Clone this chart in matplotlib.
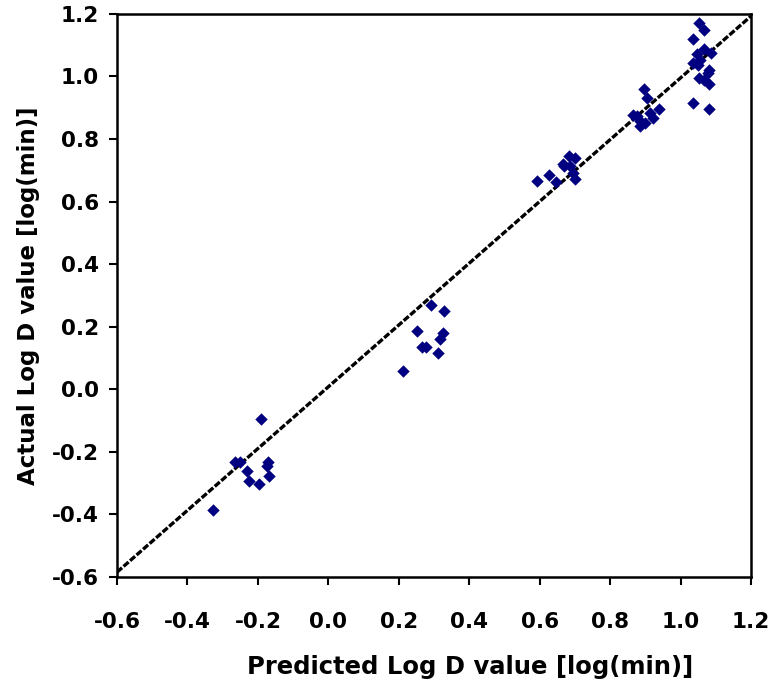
import matplotlib
matplotlib.use('Agg')
import matplotlib.pyplot as plt
import numpy as np

plt.rcParams['font.family'] = ['DejaVu Sans']

# predicted vs actual log D values
predicted = [
    -0.19, -0.266, -0.25, -0.17, -0.174, -0.231, -0.168, -0.225, -0.196, -0.328,
    0.292, 0.327, 0.253, 0.326, 0.316, 0.266, 0.278, 0.310, 0.212,
    0.683, 0.700, 0.665, 0.686, 0.696, 0.700, 0.627, 0.592, 0.646, 0.670,
    0.897, 0.904, 0.940, 0.866, 0.876, 0.885, 0.923, 0.913, 0.885, 0.899,
    1.053, 1.067, 1.035, 1.067, 1.087, 1.046, 1.036, 1.050, 1.055, 1.081,
    1.079, 1.053, 1.067, 1.082, 1.035, 1.082,
]
actual = [
    -0.095, -0.231, -0.231, -0.231, -0.245, -0.261, -0.277, -0.293, -0.302, -0.386,
    0.270, 0.250, 0.186, 0.180, 0.160, 0.135, 0.135, 0.116, 0.058,
    0.744, 0.739, 0.719, 0.712, 0.691, 0.672, 0.685, 0.664, 0.662, 0.712,
    0.959, 0.932, 0.895, 0.877, 0.872, 0.856, 0.867, 0.883, 0.840, 0.851,
    1.170, 1.149, 1.119, 1.087, 1.076, 1.071, 1.042, 1.037, 1.053, 1.021,
    1.010, 0.996, 0.989, 0.976, 0.915, 0.895,
]

# fitted line
fit_slope = 0.987
fit_intercept = 0.008
fit_x = [-0.6, 1.2]

fig = plt.figure(figsize=(7.75, 6.87), dpi=100)
ax = fig.add_axes([0.151, 0.160, 0.818, 0.820])

xs = np.array(fit_x)
ax.plot(xs, fit_slope * xs + fit_intercept, color='black', lw=2.4,
        linestyle=(0, (2, 0.6)), zorder=2)
ax.scatter(predicted, actual, marker='D', s=40, color='#000080',
           linewidths=0, zorder=3)

ax.set_xlim(-0.6, 1.2)
ax.set_ylim(-0.6, 1.2)
ticks = np.arange(-0.6, 1.21, 0.2)
ax.set_xticks(ticks)
ax.set_yticks(ticks)
ax.set_xticklabels([f'{t:.1f}' for t in ticks], fontsize=15.5, fontweight='bold')
ax.set_yticklabels([f'{t:.1f}' for t in ticks], fontsize=15.5, fontweight='bold')
ax.tick_params(direction='out', length=6, width=1.5)
ax.tick_params(axis='x', pad=19)
ax.tick_params(axis='y', pad=7)
for sp in ax.spines.values():
    sp.set_linewidth(1.8)

ax.set_xlabel('Predicted Log D value [log(min)]', fontsize=17.5,
              fontweight='bold', va='baseline')
ax.xaxis.set_label_coords(0.557, -0.172)
ax.set_ylabel('Actual Log D value [log(min)]', fontsize=16.5,
              fontweight='bold', va='center')
ax.yaxis.set_label_coords(-0.140, 0.5)

fig.savefig('out.png', dpi=100)
